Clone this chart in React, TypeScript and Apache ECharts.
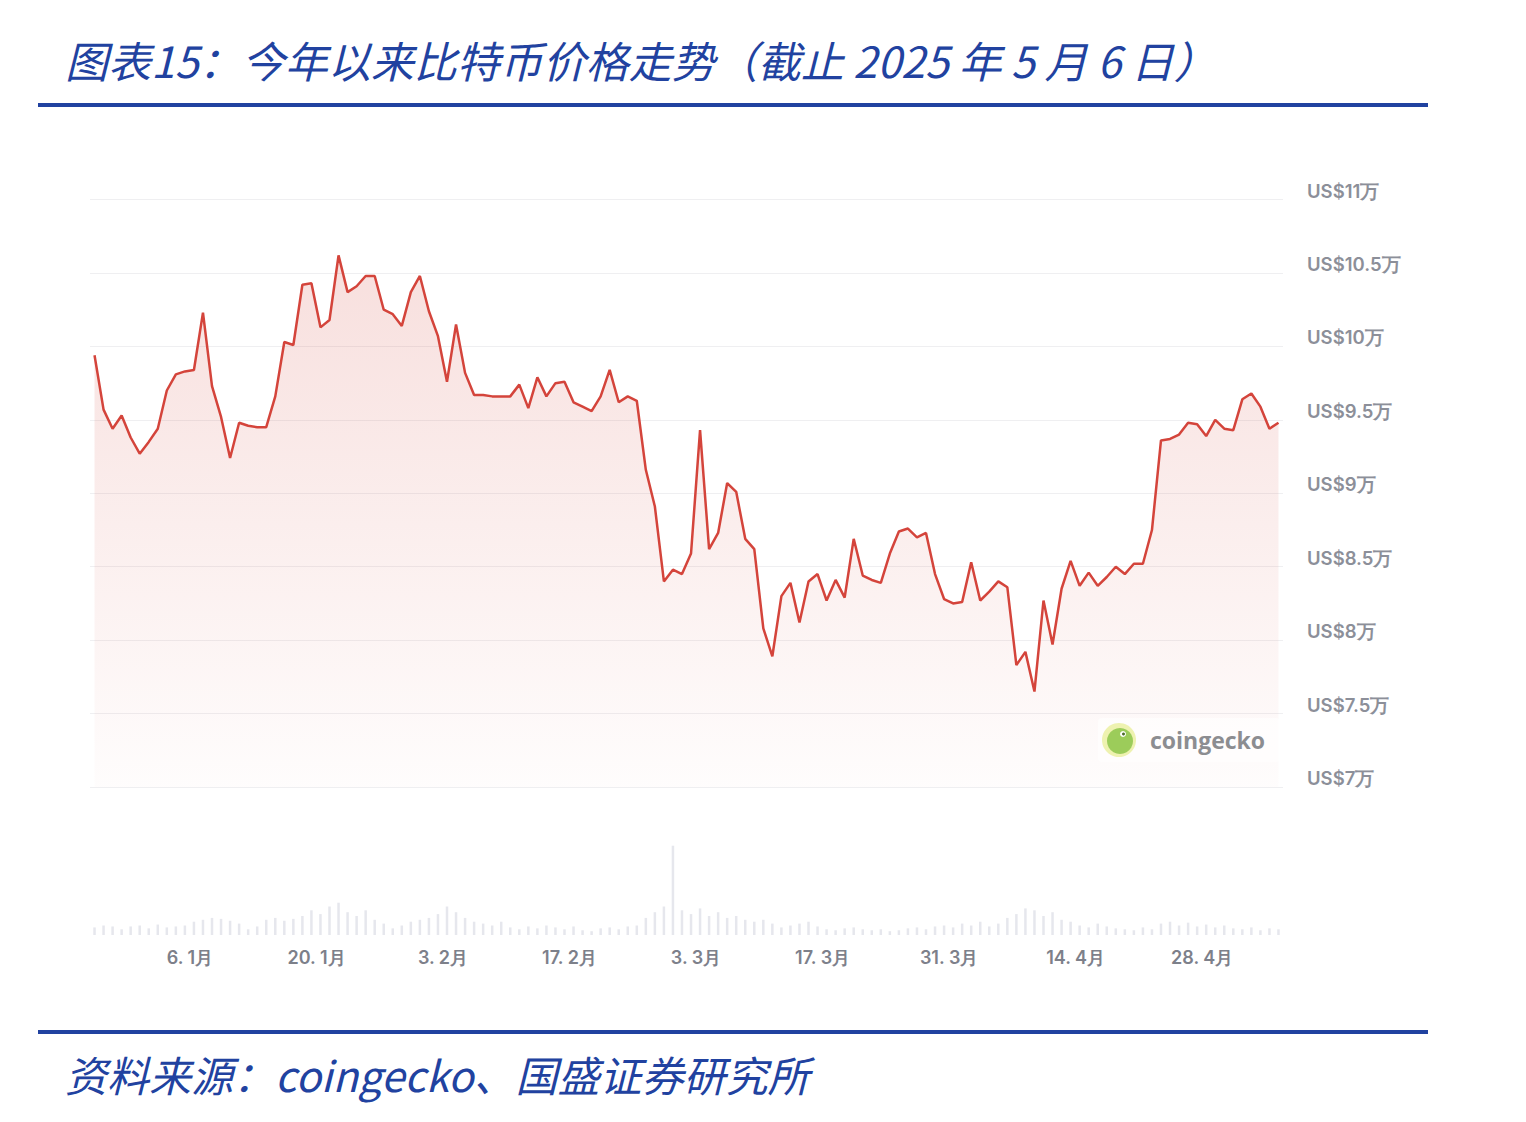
import React, { useEffect, useRef } from "react";
import * as echarts from "echarts";

// Daily BTC price (USD), 2024-12-26 .. 2025-05-06
const priceValues: number[] = [
  99400, 95700, 94400, 95300, 93800, 92700, 93500, 94400, 97000, 98100,
  98300, 98400, 102300, 97300, 95200, 92400, 94800, 94600, 94500, 94500,
  96600, 100300, 100100, 104200, 104300, 101300, 101800, 106200, 103700, 104100,
  104800, 104800, 102500, 102200, 101400, 103700, 104800, 102400, 100700, 97600,
  101500, 98200, 96700, 96700, 96600, 96600, 96600, 97400, 95800, 97900,
  96600, 97500, 97600, 96200, 95900, 95600, 96600, 98400, 96200, 96600,
  96300, 91600, 89100, 84000, 84800, 84500, 85900, 94300, 86200, 87300,
  90700, 90100, 86900, 86200, 80800, 78900, 83000, 83900, 81200, 84000,
  84500, 82700, 84100, 82900, 86900, 84400, 84100, 83900, 85900, 87400,
  87600, 87000, 87300, 84500, 82800, 82500, 82600, 85300, 82700, 83300,
  84000, 83600, 78300, 79200, 76500, 82700, 79700, 83500, 85400, 83700,
  84600, 83700, 84300, 85000, 84500, 85200, 85200, 87500, 93600, 93700,
  94000, 94800, 94700, 93900, 95000, 94400, 94300, 96400, 96800, 95900,
  94400, 94800,
];

// Daily trading volume (billion USD, estimated from the faint bars)
const volumeValues: number[] = [
  8, 10, 9, 6, 9, 10, 7, 11, 8, 9, 10,
  14, 16, 18, 17, 15, 12,
  6, 9,
  16, 18, 15, 17, 20, 26, 22,
  30, 34,
  24, 20, 26, 16, 12,
  7, 10, 14,
  16, 18, 22, 30, 24, 18,
  14, 12, 10, 14,
  8, 6, 9, 7, 10, 8, 6, 9, 5, 4, 7, 8, 6, 9, 10,
  18, 24, 30, 94, 26, 22, 28, 20, 24, 18, 20, 16,
  14, 16, 12, 8, 10, 12, 14, 9, 6, 5, 7, 8, 6,
  5, 6, 4, 5, 7, 8, 6, 9, 10, 8, 12, 10, 14, 9, 12,
  18, 22, 28, 26, 20, 24, 16, 14,
  10, 8, 12, 9, 7, 6, 5, 8, 6,
  12, 14, 10, 13, 9, 11, 8, 10,
  7, 6, 8, 5, 7, 6,
];

const startDate = "2024-12-26";
const xTickDates: string[] = [
  "2025-01-06", "2025-01-20", "2025-02-03", "2025-02-17", "2025-03-03",
  "2025-03-17", "2025-03-31", "2025-04-14", "2025-04-28",
];
const xTickLabels: string[] = [
  "6. 1月", "20. 1月", "3. 2月", "17. 2月", "3. 3月",
  "17. 3月", "31. 3月", "14. 4月", "28. 4月",
];

const titleText = "图表15：今年以来比特币价格走势（截止 2025 年 5 月 6 日）";
const footerText = "资料来源：coingecko、国盛证券研究所";

function buildDates(start: string, n: number): string[] {
  const out: string[] = [];
  const d0 = new Date(start + "T00:00:00Z").getTime();
  for (let i = 0; i < n; i++) {
    const d = new Date(d0 + i * 86400000);
    out.push(d.toISOString().slice(0, 10));
  }
  return out;
}

export default function App() {
  const ref = useRef<HTMLDivElement>(null);
  useEffect(() => {
    document.body.style.margin = "0";
    if (!ref.current) return;
    const chart = echarts.init(ref.current, null, { renderer: "svg" });
    const dates = buildDates(startDate, priceValues.length);
    const blue = "#2142a0";
    const gridL = 90;
    const gridW = 1193;
    const option: any = {
      animation: false,
      backgroundColor: "#ffffff",
      title: [
        {
          text: titleText,
          left: 60,
          top: 32,
          textStyle: {
            fontFamily: "Noto Sans CJK SC",
            fontSize: 43,
            fontStyle: "italic",
            fontWeight: "normal",
            color: blue,
          },
        },
        {
          text: footerText,
          left: 60,
          top: 1047,
          textStyle: {
            fontFamily: "Noto Sans CJK SC",
            fontSize: 42,
            fontStyle: "italic",
            fontWeight: "normal",
            color: blue,
          },
        },
      ],
      graphic: [
        { type: "rect", shape: { x: 38, y: 103, width: 1390, height: 4 }, style: { fill: blue } },
        { type: "rect", shape: { x: 38, y: 1030, width: 1390, height: 4 }, style: { fill: blue } },
        {
          type: "rect",
          shape: { x: 1098, y: 718, width: 182, height: 44, r: 4 },
          style: { fill: "rgba(255,255,255,0.6)" },
          z: 10,
        },
        { type: "circle", shape: { cx: 1119, cy: 740, r: 17 }, style: { fill: "#eef2b0" }, z: 11 },
        { type: "circle", shape: { cx: 1120, cy: 741, r: 13 }, style: { fill: "#9ccc5a" }, z: 12 },
        { type: "circle", shape: { cx: 1123, cy: 734, r: 3 }, style: { fill: "#ffffff" }, z: 13 },
        { type: "circle", shape: { cx: 1123.5, cy: 734, r: 1.5 }, style: { fill: "#4a6b2a" }, z: 14 },
        {
          type: "text",
          x: 1150,
          y: 740,
          z: 12,
          style: {
            text: "coingecko",
            fontFamily: "Open Sans",
            fontWeight: "bold",
            fontSize: 23,
            fill: "#8c8d91",
            verticalAlign: "middle",
          },
        },
      ],
      grid: [
        { left: gridL, width: gridW, top: 199.6, height: 587.4 },
        { left: gridL, width: gridW, top: 840, height: 95 },
      ],
      xAxis: [
        {
          type: "category",
          gridIndex: 0,
          data: dates,
          boundaryGap: true,
          axisLine: { show: false },
          axisTick: { show: false },
          axisLabel: { show: false },
          splitLine: { show: false },
        },
        {
          type: "category",
          gridIndex: 1,
          data: dates,
          boundaryGap: true,
          axisLine: { show: false },
          axisTick: { show: false },
          splitLine: { show: false },
          axisLabel: {
            interval: (idx: number, val: string) => xTickDates.indexOf(val) >= 0,
            formatter: (val: string) => {
              const k = xTickDates.indexOf(val);
              return k >= 0 ? xTickLabels[k] : "";
            },
            color: "#7d808a",
            fontFamily: "Inter",
            fontWeight: 600,
            fontSize: 18,
            margin: 13,
            padding: [0, 8, 0, 0],
          },
        },
      ],
      yAxis: [
        {
          type: "value",
          gridIndex: 0,
          position: "right",
          min: 70000,
          max: 110000,
          interval: 5000,
          axisLine: { show: false },
          axisTick: { show: false },
          splitLine: { lineStyle: { color: "#efeff1", width: 1 } },
          axisLabel: {
            formatter: (v: number) => "US$" + v / 10000 + "万",
            color: "#8c8f99",
            fontFamily: "Inter",
            fontWeight: 600,
            fontSize: 18.5,
            margin: 24,
            align: "left",
            verticalAlign: "bottom",
            padding: [0, 0, 0, 0],
            lineHeight: 18,
          },
        },
        {
          type: "value",
          gridIndex: 1,
          min: 0,
          max: 100,
          show: false,
          splitLine: { show: false },
        },
      ],
      series: [
        {
          type: "line",
          xAxisIndex: 0,
          yAxisIndex: 0,
          data: priceValues,
          symbol: "none",
          lineStyle: { color: "#d4443b", width: 2.5 },
          areaStyle: {
            color: new echarts.graphic.LinearGradient(0, 0, 0, 1, [
              { offset: 0, color: "rgba(214,80,70,0.26)" },
              { offset: 1, color: "rgba(214,80,70,0.02)" },
            ]),
          },
          z: 3,
        },
        {
          type: "bar",
          xAxisIndex: 1,
          yAxisIndex: 1,
          data: volumeValues,
          barWidth: 2.5,
          itemStyle: { color: "#e6e7ed" },
        },
      ],
    };
    chart.setOption(option);
    return () => chart.dispose();
  }, []);
  return (
    <div
      ref={ref}
      style={{ position: "absolute", left: 0, top: 0, width: 1526, height: 1122 }}
    />
  );
}
